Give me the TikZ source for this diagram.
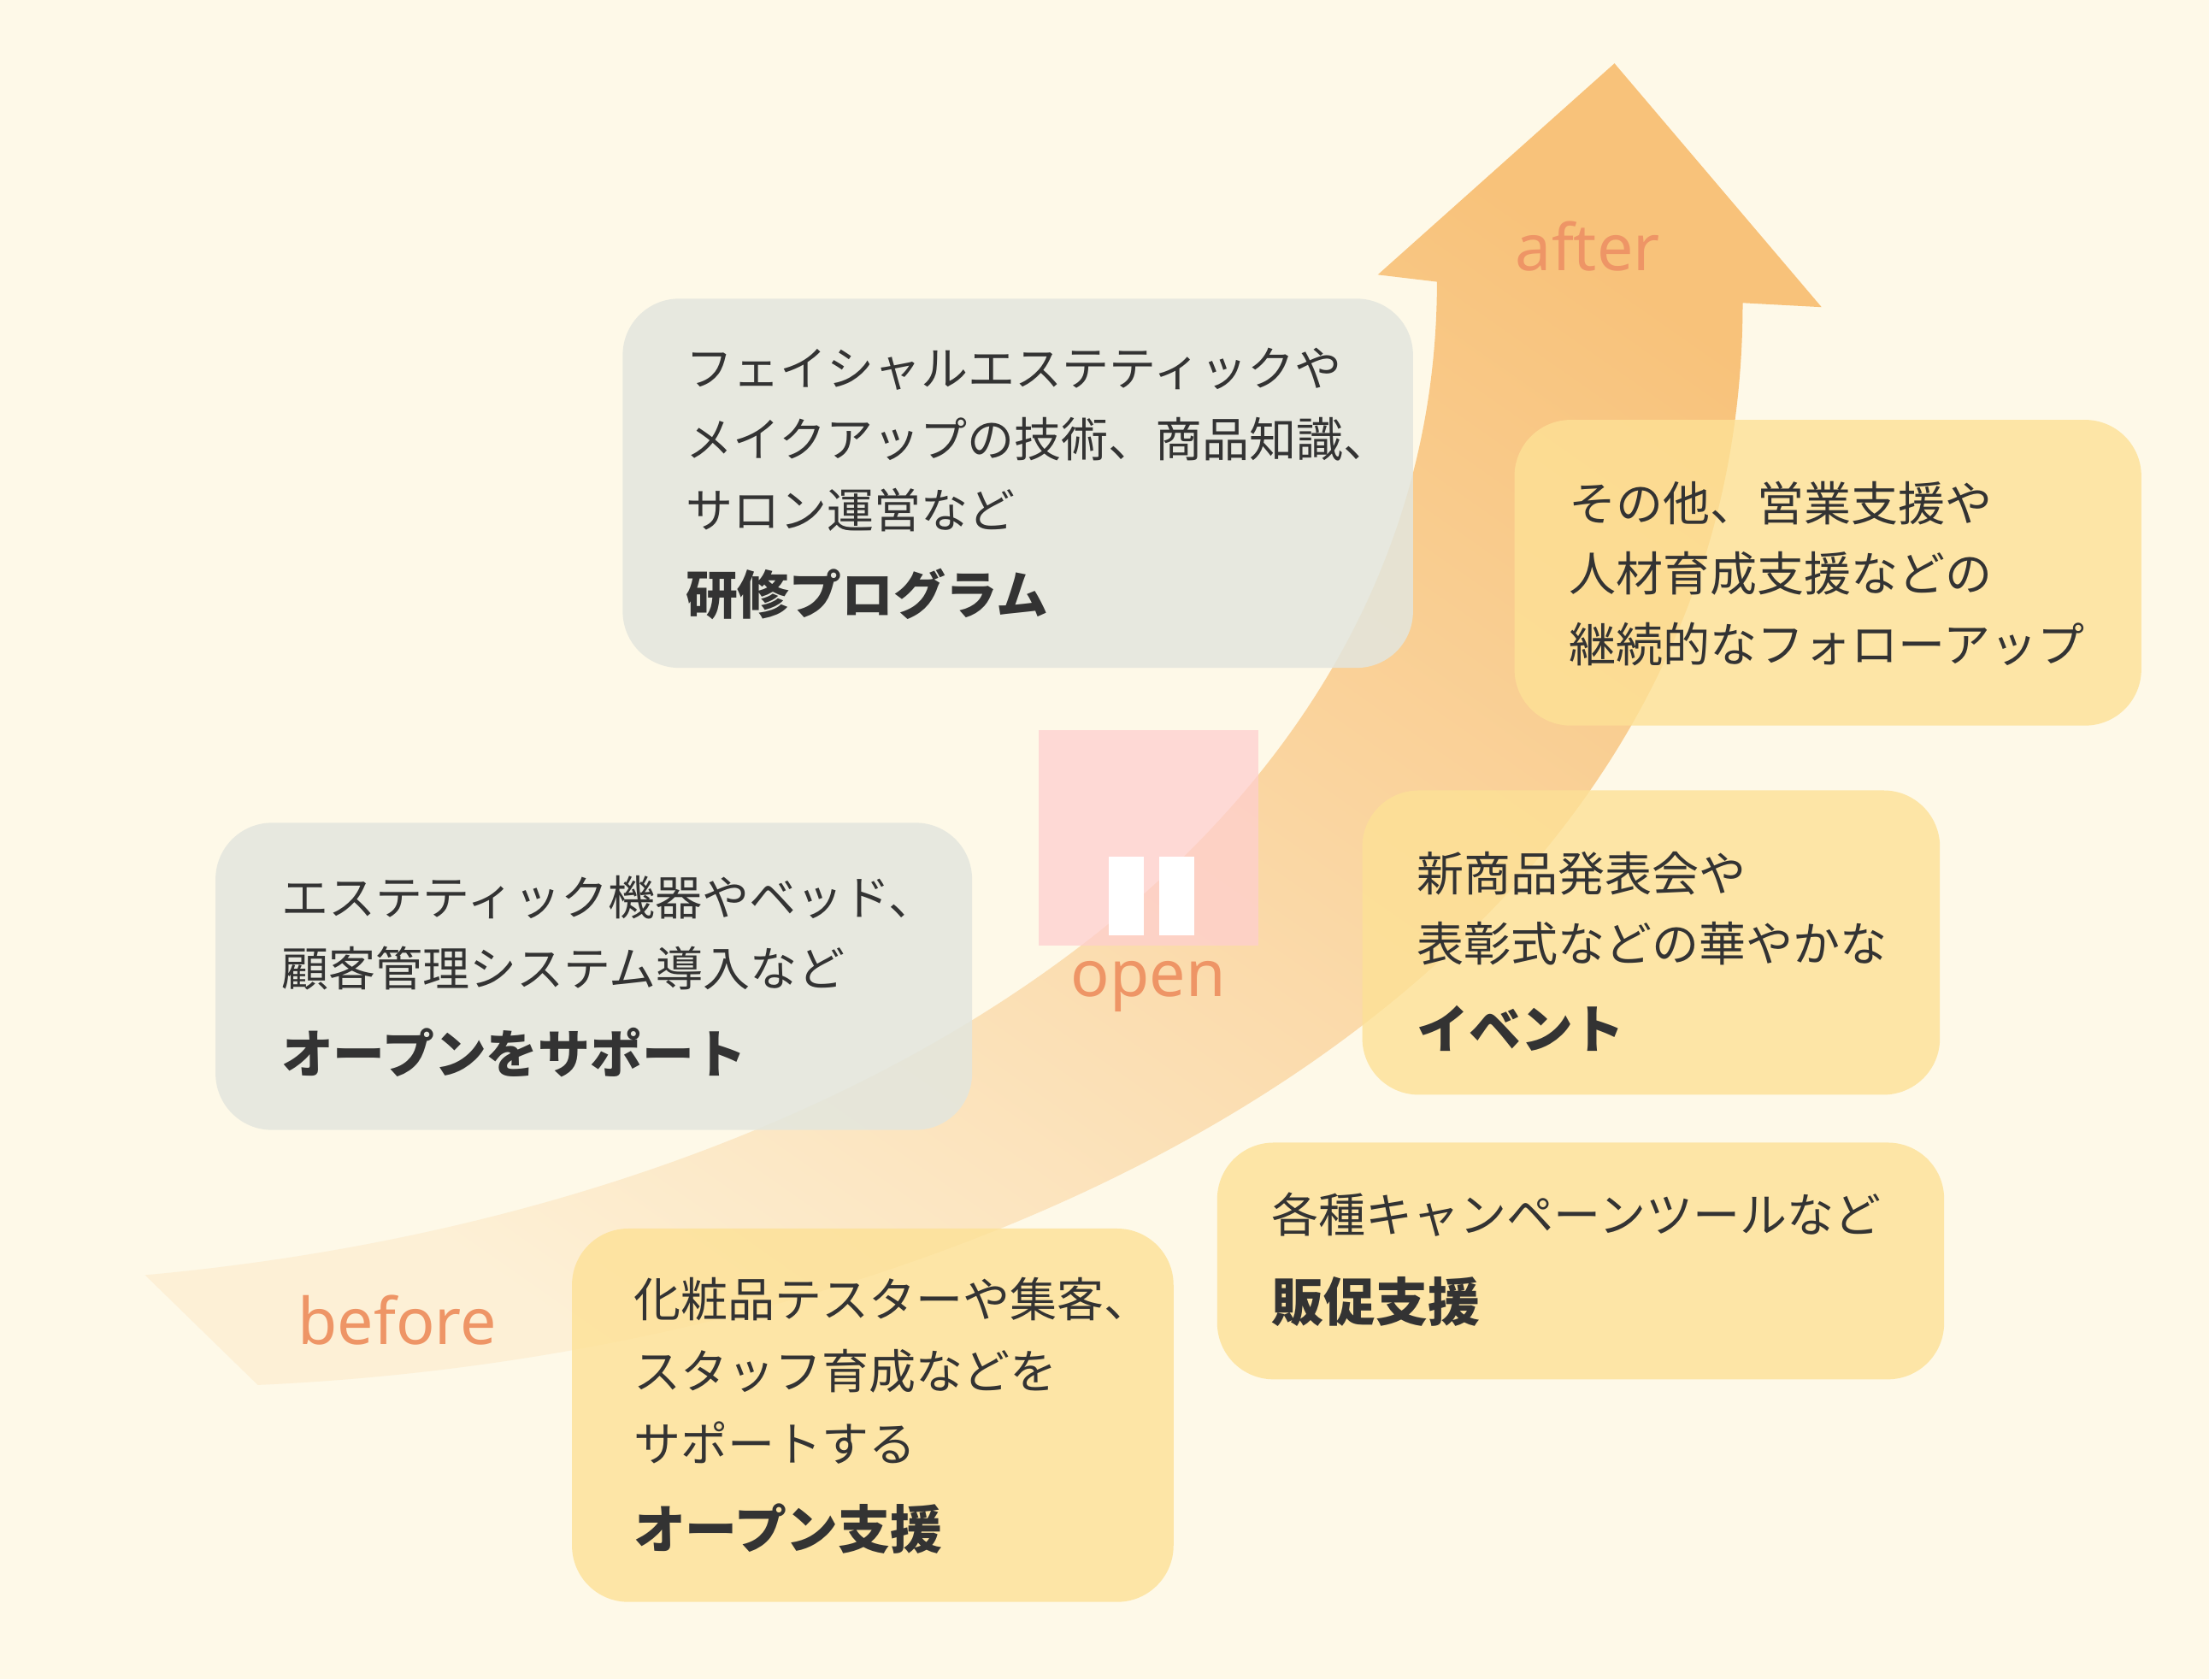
\documentclass[tikz,border=0pt]{standalone}
\usepackage{fontspec}
\setmainfont{Noto Sans CJK JP}
\newfontfamily\latinf{Noto Sans}
\definecolor{bg}{HTML}{FEF9E8}
\definecolor{graybox}{HTML}{E3E6DE}
\definecolor{yelbox}{HTML}{FDE196}
\definecolor{txt}{HTML}{333333}
\definecolor{orangetxt}{HTML}{EE9566}
\definecolor{arrowtop}{HTML}{F8C27A}
\definecolor{arrowbot}{HTML}{FDF0D6}
\tikzset{
  gbox/.style={fill=graybox,fill opacity=0.85,rounded corners=0.4cm},
  ybox/.style={fill=yelbox,fill opacity=0.8,rounded corners=0.4cm},
  ln/.style={anchor=west,text=txt,font=\fontsize{9.5pt}{11pt}\selectfont,inner sep=0pt},
  bl/.style={ln,font=\fontsize{10.5pt}{12pt}\selectfont\bfseries},
  lab/.style={text=orangetxt,font=\latinf\fontsize{13pt}{14pt}\selectfont\bfseries,inner sep=0pt}
}
\begin{document}
\begin{tikzpicture}[x=0.01cm,y=-0.01cm]
\fill[bg] (0,0) rectangle (1568,1192);
\useasboundingbox (0,0) rectangle (1568,1192);
% arrow
\shade[bottom color=arrowbot,top color=arrowtop,shading angle=-35]
 (183,983) .. controls (700,960) and (1237,700) .. (1237,215)
 -- (1293,218) -- (1146,45) -- (978,195) -- (1020,200)
 .. controls (1020,600) and (600,860) .. (103,905) -- cycle;
% pink open
\fill[pink!70!red!40,fill opacity=0.75] (737,518) rectangle (893,671);
\fill[white] (787,608) rectangle (812,664);
\fill[white] (823,608) rectangle (848,664);
\node[lab] (open) at (815,700) {open};
\node[lab] (after) at (1127,175) {after};
\node[lab] (before) at (282,937) {before};
% boxes
\fill[gbox] (442,212) rectangle (1003,474);
\node[ln] (a1) at (486,262) {フェイシャルエステティックや};
\node[ln] (a2) at (486,312) {メイクアップの技術、商品知識、};
\node[ln] (a3) at (486,362) {サロン運営など};
\node[bl] (a4) at (486,422) {研修プログラム};
\fill[gbox] (153,584) rectangle (690,802);
\node[ln] (b1) at (199,637) {エステティック機器やベッド、};
\node[ln] (b2) at (199,687) {顧客管理システム導入など};
\node[bl] (b3) at (199,747) {オープンをサポート};
\fill[ybox] (1075,298) rectangle (1520,515);
\node[ln] (c1) at (1113,357) {その他、営業支援や};
\node[ln] (c2) at (1113,407) {人材育成支援などの};
\node[ln] (c3) at (1113,457) {継続的なフォローアップ};
\fill[ybox] (967,561) rectangle (1377,777);
\node[ln] (d1) at (1005,620) {新商品発表会や};
\node[ln] (d2) at (1005,670) {表彰式などの華やかな};
\node[bl] (d3) at (1005,730) {イベント};
\fill[ybox] (864,811) rectangle (1380,979);
\node[ln] (e1) at (902,862) {各種キャンペーンツールなど};
\node[bl] (e2) at (902,924) {販促支援};
\fill[ybox] (406,872) rectangle (833,1137);
\node[ln] (f1) at (449,922) {化粧品テスターや集客、};
\node[ln] (f2) at (449,973) {スタッフ育成などを};
\node[ln] (f3) at (449,1024) {サポートする};
\node[bl] (f4) at (449,1085) {オープン支援};
\end{tikzpicture}
\end{document}
